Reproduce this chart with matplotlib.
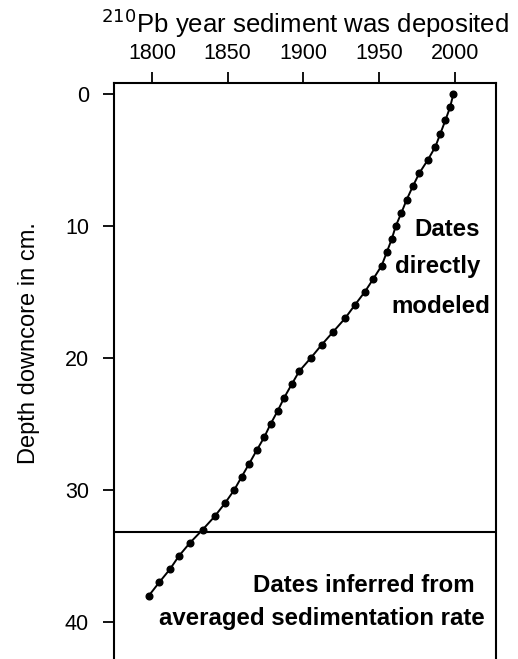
import numpy as np
import matplotlib
matplotlib.use('Agg')
import matplotlib.pyplot as plt

plt.rcParams['font.family'] = ['Liberation Sans', 'DejaVu Sans']

# depth (cm) and modeled 210Pb year
depth = list(range(0, 39))
year = [1998.9, 1996.7, 1993.6, 1990.3, 1987.0, 1982.0, 1976.4, 1972.1, 1968.1,
        1964.6, 1960.9, 1958.2, 1954.9, 1951.6, 1946.1, 1940.4, 1933.8, 1927.4,
        1919.7, 1912.0, 1904.8, 1897.2, 1892.2, 1887.3, 1883.0, 1878.3, 1874.1,
        1869.1, 1864.2, 1859.2, 1854.3, 1848.2, 1841.4, 1833.5, 1825.1, 1817.8,
        1811.9, 1804.8, 1798.0]
cutoff = 33.2
xticks = [1800, 1850, 1900, 1950, 2000]
yticks = [0, 10, 20, 30, 40]

fig = plt.figure(figsize=(5.18, 6.59), dpi=100)
ax = fig.add_axes([114/518, 0, (496-114)/518, (659-83)/659])

ax.plot(year, depth, color='black', lw=1.4, marker='o', ms=4.8)
ax.axhline(cutoff, color='black', lw=1.5)

ax.set_xlim(1775, 2027)
ax.set_ylim(42.8, -0.83)
ax.xaxis.tick_top()
ax.xaxis.set_label_position('top')
ax.set_xticks(xticks)
ax.set_yticks(yticks)
ax.tick_params(axis='both', direction='out', length=8, width=1.3, labelsize=15.5)
ax.tick_params(axis='x', pad=6)
ax.tick_params(axis='y', pad=10)
ax.spines['bottom'].set_visible(False)
for s in ['top', 'left', 'right']:
    ax.spines[s].set_linewidth(1.5)

ax.set_xlabel('$^{210}$Pb year sediment was deposited', fontsize=18.5, labelpad=7)
ax.set_ylabel('Depth downcore in cm.', fontsize=17)
ax.yaxis.set_label_coords(-0.195, 0.549)

bold = dict(fontsize=17.3, fontweight='bold', va='center', ha='right')
ax.text(2016.5, 10.3, 'Dates', **bold)
ax.text(2016.5, 13.1, 'directly', **bold)
ax.text(2023, 16.1, 'modeled', **bold)
ax.text(2013.2, 37.2, 'Dates inferred from', **bold)
ax.text(2019.8, 39.7, 'averaged sedimentation rate', **bold)

fig.savefig('out.png', dpi=100)
